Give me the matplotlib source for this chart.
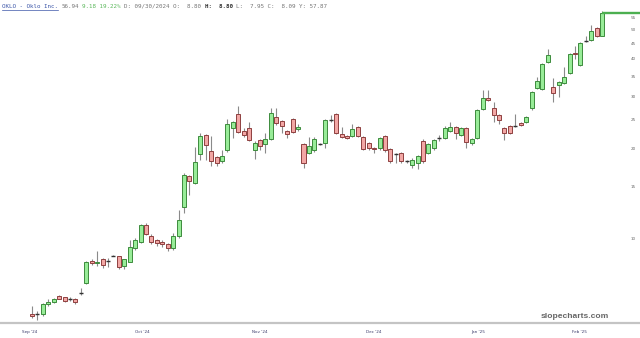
import matplotlib
matplotlib.use("Agg")
import matplotlib.pyplot as plt
import numpy as np
from matplotlib.lines import Line2D
from matplotlib.ticker import NullLocator, FixedLocator, FixedFormatter

# OKLO daily candles, Sep 2024 - Feb 2025
opens = [5.60, 5.60, 5.62, 6.05, 6.15, 6.45, 6.38, 6.30, 6.30, 6.60,
         7.15, 8.45, 8.30, 8.60, 8.45, 8.80, 8.80, 8.10, 8.40, 9.30,
         9.80, 11.1, 10.2, 9.9, 9.8, 9.6, 9.3, 10.2, 12.8, 16.2,
         15.4, 19.2, 22.3, 19.7, 18.8, 18.2, 19.8, 23.5, 26.2, 23.0,
         23.5, 19.8, 21.4, 20.8, 21.6, 25.6, 24.8, 23.0, 25.2, 23.3,
         20.8, 19.4, 19.8, 20.8, 20.9, 25.0, 26.2, 22.4, 22.1, 22.1,
         23.7, 21.9, 20.9, 20.2, 20.1, 22.1, 20.0, 19.2, 19.4, 18.2,
         17.7, 17.9, 21.3, 19.4, 20.1, 21.8, 21.8, 23.0, 23.7, 22.3,
         23.5, 20.9, 21.8, 27.2, 29.6, 27.4, 26.0, 23.5, 23.9, 23.9,
         24.4, 24.6, 27.4, 32.0, 31.7, 39.0, 32.2, 32.7, 33.2, 35.9,
         41.9, 38.1, 46.0, 46.2, 50.7, 47.76]
highs = [5.95, 5.75, 6.10, 6.30, 6.35, 6.50, 6.42, 6.40, 6.35, 6.85,
         8.45, 8.60, 9.10, 8.65, 8.65, 8.85, 8.80, 8.60, 9.90, 10.1,
         11.2, 11.3, 10.4, 10.0, 9.9, 9.7, 10.5, 12.5, 16.6, 16.3,
         20.3, 22.6, 22.5, 22.1, 19.0, 19.8, 25.2, 24.8, 27.8, 23.5,
         24.6, 21.2, 21.6, 22.6, 27.4, 27.4, 25.0, 23.2, 25.4, 24.2,
         21.0, 21.9, 21.9, 21.0, 25.2, 26.0, 26.4, 23.7, 22.3, 24.2,
         23.9, 22.1, 21.1, 20.3, 22.0, 22.3, 20.2, 19.4, 19.6, 18.4,
         18.6, 19.1, 21.5, 21.0, 21.6, 22.2, 23.8, 24.6, 23.9, 23.7,
         23.7, 21.8, 27.2, 31.5, 31.5, 28.7, 26.2, 23.7, 24.1, 26.2,
         24.6, 25.8, 31.2, 34.8, 38.7, 43.1, 34.5, 33.8, 37.6, 41.8,
         44.1, 45.5, 47.7, 51.9, 51.0, 57.87]
lows = [5.45, 5.35, 5.55, 5.95, 6.10, 6.28, 6.18, 6.20, 6.05, 6.50,
        7.05, 8.20, 8.10, 8.00, 8.05, 8.75, 7.95, 7.95, 8.35, 9.20,
        9.70, 10.3, 9.6, 9.5, 9.4, 9.1, 9.2, 10.1, 12.2, 14.0,
        15.3, 18.4, 18.4, 17.5, 17.5, 18.0, 19.5, 21.8, 22.6, 22.0,
        21.2, 18.5, 19.8, 19.4, 21.4, 24.0, 22.6, 21.8, 22.6, 23.0,
        17.3, 19.2, 19.6, 20.6, 20.1, 24.6, 22.4, 21.7, 21.5, 22.0,
        21.9, 19.8, 19.9, 19.4, 19.9, 19.6, 18.0, 17.9, 18.0, 18.0,
        17.3, 17.1, 18.0, 19.2, 19.9, 21.2, 21.6, 22.8, 21.6, 22.1,
        20.1, 20.6, 21.6, 27.0, 28.8, 24.6, 24.2, 21.4, 22.4, 23.6,
        23.8, 24.4, 27.0, 31.7, 31.5, 38.8, 28.7, 29.8, 33.0, 35.6,
        39.9, 37.9, 45.6, 45.9, 47.2, 47.5]
closes = [5.55, 5.58, 6.05, 6.18, 6.30, 6.32, 6.22, 6.30, 6.15, 6.62,
          8.40, 8.30, 8.35, 8.20, 8.40, 8.80, 8.09, 8.55, 9.40, 9.90,
          11.1, 10.4, 9.8, 9.7, 9.6, 9.3, 10.2, 11.6, 16.4, 15.6,
          18.1, 22.1, 20.6, 18.2, 17.9, 18.9, 24.2, 24.6, 22.8, 22.3,
          21.4, 20.9, 20.4, 21.6, 26.4, 24.4, 23.9, 22.4, 22.8, 23.7,
          17.9, 20.4, 21.6, 20.8, 25.0, 25.1, 22.6, 21.9, 21.8, 23.3,
          22.1, 20.0, 20.1, 20.0, 21.8, 19.8, 18.2, 19.2, 18.2, 18.2,
          18.4, 18.9, 18.2, 20.8, 21.4, 21.8, 23.5, 23.7, 22.6, 23.5,
          21.1, 21.6, 27.0, 29.6, 29.1, 26.0, 25.0, 22.6, 22.6, 23.9,
          24.0, 25.6, 31.0, 33.7, 38.4, 41.2, 30.7, 33.5, 34.8, 41.5,
          41.5, 45.2, 46.0, 49.5, 47.76, 56.94]

month_labels = ["Sep '24", "Oct '24", "Nov '24", "Dec '24", "Jan '25", "Feb '25"]
month_pos = [-0.4, 20.4, 42.0, 63.0, 82.1, 100.9]
price_ticks = [10, 15, 20, 25, 30, 35, 40, 45, 50, 55]

up_fill, up_edge = "#98ec98", "#3d8b3d"
dn_fill, dn_edge = "#f2a7a5", "#8e4040"

W, H = 640, 338
fig = plt.figure(figsize=(W / 100, H / 100), dpi=100)
ax = fig.add_axes([0, 15 / H, 1, 323 / H])

x = np.arange(len(opens))
o = np.array(opens); h = np.array(highs); l = np.array(lows); c = np.array(closes)

ax.vlines(x, l, h, color="#8a8a8a", lw=0.8, zorder=1)
bw = 0.74
for i in x:
    if abs(c[i] - o[i]) / o[i] < 0.006:
        ax.hlines(o[i], i - bw / 2, i + bw / 2, color="#333333", lw=1.0, zorder=3)
        continue
    up = c[i] > o[i]
    lo, hi = min(o[i], c[i]), max(o[i], c[i])
    ax.bar(i, hi - lo, bottom=lo, width=bw,
           color=up_fill if up else dn_fill,
           edgecolor=up_edge if up else dn_edge, lw=0.7, zorder=2)

# last price line
ax.hlines(c[-1], x[-1], 200, color="#4caf50", lw=1.7, zorder=2)

ax.set_yscale("log")
ax.set_ylim(10 * np.exp((239 - 323) / 130), 10 * np.exp(239 / 130))
ax.set_xlim(-32 / 5.43, (W - 32) / 5.43)

for s in ["top", "left", "right"]:
    ax.spines[s].set_visible(False)
ax.spines["bottom"].set_color("#c4c4c4")
ax.spines["bottom"].set_linewidth(1.6)

ax.xaxis.set_major_locator(FixedLocator(month_pos))
ax.xaxis.set_major_formatter(FixedFormatter(month_labels))
ax.tick_params(axis="x", length=0, labelsize=3, labelcolor="#3a3a6a", pad=5)

ax.yaxis.set_major_locator(FixedLocator(price_ticks))
ax.yaxis.set_major_formatter(FixedFormatter([str(t) for t in price_ticks]))
ax.yaxis.set_minor_locator(NullLocator())
ax.yaxis.tick_right()
ax.tick_params(axis="y", length=0, labelsize=3, labelcolor="#666666", pad=-6.5)
for t in ax.get_yticklabels():
    t.set_horizontalalignment("left")

# header line (monospace, coloured pieces)
cw = 3.5
def hdr(col, s, color, weight="normal"):
    fig.text((2 + col * cw) / W, 1 - 6 / H, s, fontsize=4.2, family="DejaVu Sans Mono",
             color=color, weight=weight, va="center", ha="left")

hdr(0, "OKLO - Oklo Inc.", "#3b55a8")
fig.add_artist(Line2D([2 / W, (2 + 16 * cw) / W], [1 - 9.5 / H, 1 - 9.5 / H],
                      color="#3b55a8", lw=0.5))
hdr(17, "56.94", "#777777")
hdr(23, "9.18 19.22%", "#5cb85c")
hdr(35, "D: 09/30/2024 O:  8.80", "#777777")
hdr(58, "H:  8.80", "#333333", "bold")
hdr(67, "L:  7.95 C:  8.09 Y: 57.87", "#777777")

fig.text(541 / W, 1 - 317 / H, "slopecharts.com", fontsize=6.1, family="Liberation Sans",
         weight="bold", color="#666666", va="center", ha="left")

fig.savefig("out.png", dpi=100)
